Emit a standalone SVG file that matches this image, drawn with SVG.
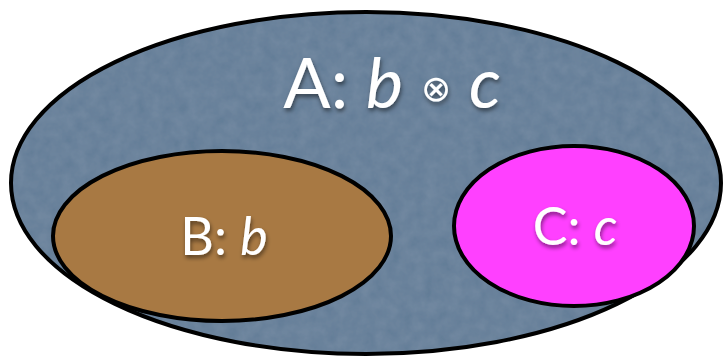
<svg xmlns="http://www.w3.org/2000/svg" width="724" height="359" viewBox="0 0 724 359">
<defs>
<filter id="shadow" x="-20%" y="-20%" width="140%" height="150%">
<feGaussianBlur in="SourceAlpha" stdDeviation="2"/>
<feOffset dx="1" dy="3" result="b"/>
<feComponentTransfer><feFuncA type="linear" slope="0.5"/></feComponentTransfer>
<feMerge><feMergeNode/><feMergeNode in="SourceGraphic"/></feMerge>
</filter>
<filter id="noise" x="0" y="0" width="100%" height="100%">
<feTurbulence type="fractalNoise" baseFrequency="0.08" numOctaves="3" seed="4" result="n"/>
<feColorMatrix in="n" type="matrix" values="0 0 0 0 0.45  0 0 0 0 0.55  0 0 0 0 0.65  0 0 0 0.18 0" result="c"/>
<feComposite in="c" in2="SourceGraphic" operator="in" result="t"/>
<feMerge><feMergeNode in="SourceGraphic"/><feMergeNode in="t"/></feMerge>
</filter>
</defs>
<style>
.outline{stroke:#000;stroke-width:4}
.lbl{font-family:Lato,"Open Sans","Liberation Sans",sans-serif;fill:#fff;text-anchor:middle}
.it{font-style:italic}
</style>
<rect width="724" height="359" fill="#fff"/>
<g id="A">
<ellipse cx="366" cy="183" rx="355" ry="171" fill="#607a95" filter="url(#noise)"/>
<ellipse cx="366" cy="183" rx="355" ry="171" fill="none" class="outline"/>
<text class="lbl" x="392" y="108" font-size="70" filter="url(#shadow)">A: <tspan class="it">b</tspan> <tspan font-size="36" dy="-7">⊗</tspan> <tspan class="it" dy="7">c</tspan></text>
</g>
<g id="B">
<ellipse cx="222" cy="236" rx="169" ry="85" fill="#a87943" class="outline"/>
<text class="lbl" x="224" y="255" font-size="52" filter="url(#shadow)">B: <tspan class="it">b</tspan></text>
</g>
<g id="C">
<ellipse cx="574" cy="226" rx="120" ry="80" fill="#ff40ff" class="outline"/>
<text class="lbl" x="575" y="245" font-size="52" filter="url(#shadow)">C: <tspan class="it">c</tspan></text>
</g>
<g id="connectors"/>
</svg>
